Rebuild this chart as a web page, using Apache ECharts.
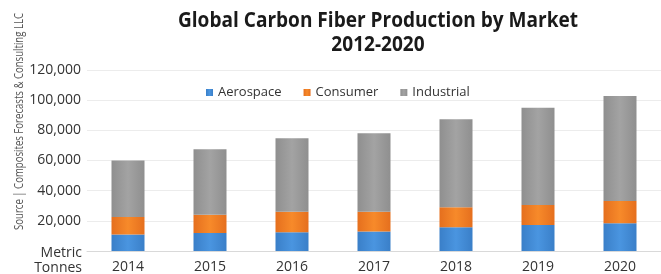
<!DOCTYPE html>
<html>
<head>
<meta charset="utf-8">
<script src="https://cdn.jsdelivr.net/npm/echarts@6/dist/echarts.min.js"></script>
<style>
  html, body { margin: 0; padding: 0; background: #fff; }
  #chart { width: 661px; height: 274px; }
</style>
</head>
<body>
<div id="chart"></div>
<script>
const years = ["2014", "2015", "2016", "2017", "2018", "2019", "2020"];
const aerospace = [11000, 12000, 12500, 13000, 15700, 17200, 18400];
const consumer = [11500, 12000, 13500, 13000, 13300, 13300, 14800];
const industrial = [37500, 43500, 48800, 52000, 58300, 64500, 69600];
const yTicks = [0, 20000, 40000, 60000, 80000, 100000, 120000];

const chart = echarts.init(document.getElementById("chart"));

const labelFont = "'Open Sans', 'Noto Sans', sans-serif";
const titleFont = "'Open Sans', 'Noto Sans', sans-serif";

// squeeze text horizontally so it fits the width seen in the original
function fitScale(text, font, target) {
  let ctx = document.createElement("canvas").getContext("2d");
  ctx.font = font;
  return target / ctx.measureText(text).width;
}

function shade(c1, c2) {
  return new echarts.graphic.LinearGradient(0, 0, 1, 0, [
    { offset: 0, color: c2 },
    { offset: 0.5, color: c1 },
    { offset: 1, color: c2 },
  ]);
}

const title1 = "Global Carbon Fiber Production by Market";
const title2 = "2012-2020";
const source = "Source | Composites Forecasts & Consulting LLC";
const titleScale = fitScale(title1, "bold 21px " + titleFont, 400);
const sourceScale = fitScale(source, "13px " + labelFont, 217);

let options = {
  animation: false,
  legend: {
    top: 81,
    left: 201,
    itemWidth: 7,
    itemHeight: 7,
    itemGap: 22,
    icon: "rect",
    textStyle: { fontFamily: labelFont, fontSize: 13, color: "#333" },
    data: ["Aerospace", "Consumer", "Industrial"],
  },
  grid: { left: 87, right: -8, top: 70, bottom: 23 },
  xAxis: {
    type: "category",
    data: years,
    axisTick: { show: false },
    axisLine: { show: true, lineStyle: { color: "#d9d9d9" } },
    axisLabel: { fontFamily: labelFont, fontSize: 14, color: "#333", margin: 9 },
  },
  yAxis: {
    type: "value",
    min: yTicks[0],
    max: yTicks[yTicks.length - 1],
    interval: 20000,
    axisLabel: {
      fontFamily: labelFont,
      fontSize: 14,
      color: "#333",
      margin: 6,
      formatter: (v) => (v === 0 ? "" : v.toLocaleString("en-US")),
    },
    splitLine: { lineStyle: { color: "#ececec" } },
  },
  graphic: [
    {
      type: "text",
      x: 378,
      y: 21,
      scaleX: titleScale,
      style: {
        text: title1,
        align: "center",
        verticalAlign: "middle",
        font: "bold 21px " + titleFont,
        fill: "#1a1a1a",
      },
    },
    {
      type: "text",
      x: 378,
      y: 45,
      scaleX: titleScale,
      style: {
        text: title2,
        align: "center",
        verticalAlign: "middle",
        font: "bold 21px " + titleFont,
        fill: "#1a1a1a",
      },
    },
    {
      type: "text",
      x: 82,
      y: 253,
      style: {
        text: "Metric",
        align: "right",
        verticalAlign: "middle",
        font: "14px " + labelFont,
        fill: "#333",
      },
    },
    {
      type: "text",
      x: 82,
      y: 268,
      style: {
        text: "Tonnes",
        align: "right",
        verticalAlign: "middle",
        font: "14px " + labelFont,
        fill: "#333",
      },
    },
    {
      type: "text",
      x: 19,
      y: 230,
      rotation: Math.PI / 2,
      scaleX: sourceScale,
      style: {
        text: source,
        align: "left",
        verticalAlign: "middle",
        font: "13px " + labelFont,
        fill: "#555",
      },
    },
  ],
  series: [
    {
      name: "Aerospace",
      type: "bar",
      stack: "total",
      barWidth: 33,
      data: aerospace,
      itemStyle: { color: shade("#4a95e0", "#3a7fc8") },
    },
    {
      name: "Consumer",
      type: "bar",
      stack: "total",
      data: consumer,
      itemStyle: { color: shade("#f78a2a", "#e56f1e") },
    },
    {
      name: "Industrial",
      type: "bar",
      stack: "total",
      data: industrial,
      itemStyle: { color: shade("#a3a3a3", "#8f8f8f") },
    },
  ],
  color: ["#3f88d4", "#f07b25", "#9b9b9b"],
};

chart.setOption(options, true);
</script>
</body>
</html>
